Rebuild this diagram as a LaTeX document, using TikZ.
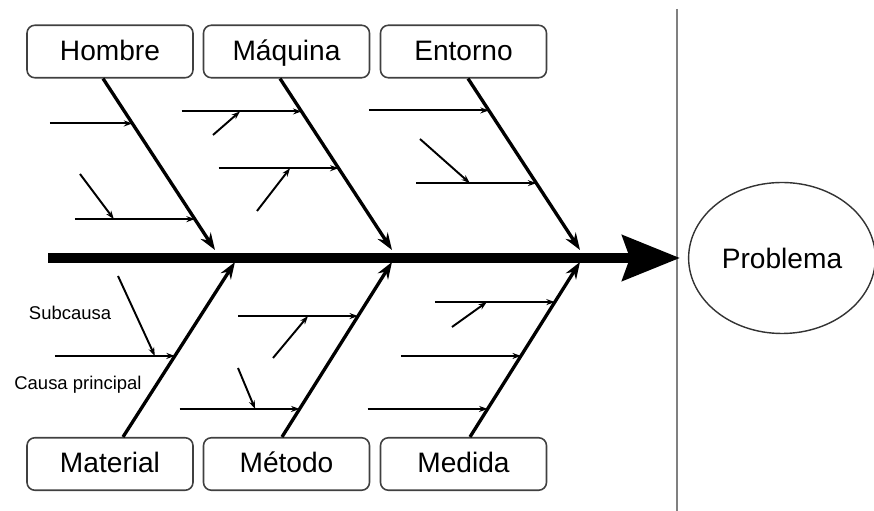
\documentclass[tikz,border=0pt]{standalone}
\usepackage{fontspec}
\setmainfont{Liberation Sans}
\usetikzlibrary{arrows.meta,calc,shapes.geometric}

\begin{document}
\begin{tikzpicture}[font=\fontsize{16}{19}\selectfont,
  cause/.style={draw=black!75,rounded corners=4.5pt,line width=0.9pt,minimum width=3.32cm,minimum height=1.05cm,inner sep=1pt,text height=1.24em,text depth=0.22em},
  bone/.style={-{Stealth[length=0.34cm,width=0.24cm]},line width=1.9pt},
  sub/.style={-{Stealth[length=0.17cm,width=0.12cm]},line width=1.1pt},
  note/.style={font=\fontsize{10.5}{12}\selectfont,inner sep=0pt}]

\useasboundingbox (0,0) rectangle (17.48,10.22);

% main causes
\node[cause] (hom) at (2.2,9.19) {Hombre};
\node[cause] (maq) at (5.73,9.19) {Máquina};
\node[cause] (ent) at (9.27,9.19) {Entorno};
\node[cause] (mat) at (2.2,0.94) {Material};
\node[cause] (met) at (5.73,0.94) {Método};
\node[cause] (med) at (9.27,0.94) {Medida};
% effect
\node[ellipse,draw=black!80,line width=0.8pt,minimum width=3.56cm,minimum height=3.02cm] (prob) at (15.64,5.06) {Problema};
\draw[black!50,line width=1.6pt] (13.54,10.04) -- (13.54,0);

% spine
\coordinate (tail) at (0.96,5.06);
\draw[line width=5.7pt,-{Stealth[length=1.15cm,width=0.9cm,inset=0.15cm]},shorten >=4.5pt] (tail) -- (prob.west);

% bones
\coordinate (hb) at ([xshift=-0.14cm]hom.south); \coordinate (h0) at (4.30,5.22);
\coordinate (qb) at ([xshift=-0.13cm]maq.south); \coordinate (q0) at (7.84,5.22);
\coordinate (eb) at ([xshift=0.09cm]ent.south);  \coordinate (e0) at (11.6,5.22);
\coordinate (ab) at ([xshift=0.26cm]mat.north);  \coordinate (a0) at (4.7,4.98);
\coordinate (tb) at ([xshift=-0.09cm]met.north); \coordinate (t0) at (7.84,4.98);
\coordinate (db) at ([xshift=0.13cm]med.north);  \coordinate (d0) at (11.6,4.98);
\foreach \b in {h,q,e,a,t,d} \draw[bone] (\b b) -- (\b 0);

% subcauses
\coordinate (h1) at ($(hb)!0.262!(h0)$); \coordinate (h2) at ($(hb)!0.82!(h0)$);
\coordinate (q1) at ($(qb)!0.192!(q0)$); \coordinate (q2) at ($(qb)!0.523!(q0)$);
\coordinate (e1) at ($(eb)!0.186!(e0)$); \coordinate (e2) at ($(eb)!0.61!(e0)$);
\coordinate (a1) at ($(ab)!0.463!(a0)$);
\coordinate (t1) at ($(tb)!0.691!(t0)$); \coordinate (t2) at ($(tb)!0.16!(t0)$);
\coordinate (d1) at ($(db)!0.771!(d0)$); \coordinate (d2) at ($(db)!0.463!(d0)$); \coordinate (d3) at ($(db)!0.16!(d0)$);
\draw[sub] ([xshift=-1.65cm]h1) -- (h1);
\foreach \s in {h2,q1,q2,e1,e2,a1,t1,t2,d1,d2,d3} \draw[sub] ([xshift=-2.4cm]\s) -- (\s);

% second level subcauses
\draw[sub] (1.6,6.74) -- ([xshift=-1.62cm]h2);
\draw[sub] (4.26,7.52) -- ([xshift=-1.23cm]q1);
\draw[sub] (5.14,6.0) -- ([xshift=-0.97cm]q2);
\draw[sub] (8.4,7.44) -- ([xshift=-1.33cm]e2);
\draw[sub] (2.36,4.7) -- ([xshift=-0.4cm]a1);
\draw[sub] (5.46,3.06) -- ([xshift=-1.0cm]t1);
\draw[sub] (4.76,2.86) -- ([xshift=-0.89cm]t2);
\draw[sub] (9.04,3.68) -- ([xshift=-1.36cm]d1);

% legend
\node[note] (subl) at (1.4,3.96) {Subcausa};
\node[note] (cpl) at (1.56,2.52) {Causa principal};
\end{tikzpicture}
\end{document}
